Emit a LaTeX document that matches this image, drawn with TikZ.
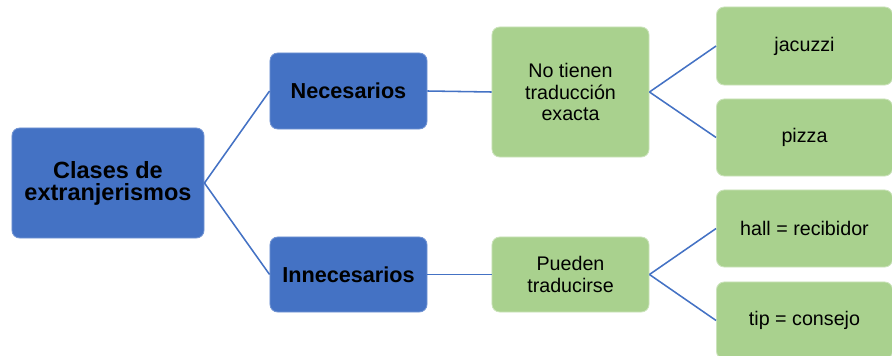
\documentclass[tikz,border=0pt]{standalone}
\usepackage{fontspec}
\setmainfont{Liberation Sans}
\usetikzlibrary{positioning}
\definecolor{azul}{HTML}{4472C4}
\definecolor{verde}{HTML}{A9D18E}

\begin{document}
\begin{tikzpicture}[x=0.025cm, y=-0.025cm,
  azulbox/.style = {rectangle, rounded corners=5.5pt, fill=azul, draw=azul!75!white, line width=0.6pt, align=center, inner sep=0pt},
  verdebox/.style = {rectangle, rounded corners=5.5pt, fill=verde, draw=verde!60!white, line width=0.6pt, align=center, inner sep=0pt, font=\fontsize{14}{15.3}\selectfont},
  rama/.style = {draw=azul, line width=1.1pt}]
  \useasboundingbox (0,0) rectangle (892,355);
  \clip (0,0) rectangle (892,355);
  % raiz
  \node (clases) at (108,183) [azulbox, minimum width=4.8cm, minimum height=2.75cm, font=\fontsize{16.7}{15.6}\selectfont\bfseries] {Clases de\\extranjerismos};
  % primer nivel
  \node (nec)   at (348.5,91)  [azulbox, minimum width=3.925cm, minimum height=1.9cm, font=\fontsize{15.4}{16}\selectfont\bfseries] {Necesarios};
  \node (innec) at (348.5,274.5) [azulbox, minimum width=3.925cm, minimum height=1.875cm, font=\fontsize{15.4}{16}\selectfont\bfseries] {Innecesarios};
  % segundo nivel
  \node (notien) at (570.5,92)  [verdebox, minimum width=3.925cm, minimum height=3.25cm] {No tienen\\traducción\\exacta};
  \node (pueden) at (570.5,274.5) [verdebox, minimum width=3.925cm, minimum height=1.875cm] {Pueden\\traducirse};
  % hojas
  \node (jac)   at (804.5,46)  [verdebox, minimum width=4.4cm, minimum height=1.95cm] {jacuzzi};
  \node (pizza) at (804.5,137.5) [verdebox, minimum width=4.4cm, minimum height=1.925cm] {pizza};
  \node (hall)  at (804.5,228.5) [verdebox, minimum width=4.4cm, minimum height=1.925cm] {hall = recibidor};
  \node (tip)   at (804.5,320.5) [verdebox, minimum width=4.4cm, minimum height=1.925cm] {tip = consejo};

  \draw [rama] (clases.east) -- (nec.west);
  \draw [rama] (clases.east) -- (innec.west);
  \draw [rama] (nec.east) -- (notien.west);
  \draw [rama] (innec.east) -- (pueden.west);
  \draw [rama] (notien.east) -- (jac.west);
  \draw [rama] (notien.east) -- (pizza.west);
  \draw [rama] (pueden.east) -- (hall.west);
  \draw [rama] (pueden.east) -- (tip.west);
\end{tikzpicture}
\end{document}
